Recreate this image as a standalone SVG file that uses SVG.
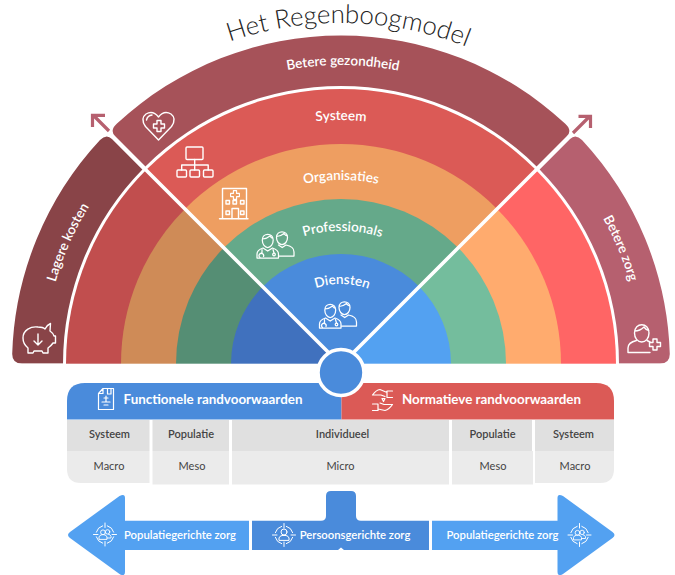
<svg xmlns="http://www.w3.org/2000/svg" xmlns:xlink="http://www.w3.org/1999/xlink" width="675" height="575" viewBox="0 0 675 575">
<style>
text{font-family:Lato,"Liberation Sans",sans-serif}
.lb{fill:#fff;font-size:13.5px;font-weight:600;text-anchor:middle}
.hd{fill:#fff;font-size:13.4px;font-weight:700;text-anchor:middle}
.ar{fill:#fff;font-size:11.3px;font-weight:600;text-anchor:middle}
.c1{fill:#444;font-size:11px;font-weight:600;text-anchor:middle}
.c2{fill:#444;font-size:11px;text-anchor:middle}
.ic{fill:none;stroke:#fff;stroke-width:1.4;stroke-linejoin:round;stroke-linecap:round}
.th{fill:none;stroke:#fff;stroke-width:1;stroke-linejoin:round;stroke-linecap:round}
.r1{fill:#e0e0e0}.r2{fill:#ebebeb}
.arrow{fill:none;stroke:#b6606f;stroke-width:3.2}
.diag{stroke:#fff;stroke-width:3.6;fill:none}
</style>
<defs>
<path id="pTitle" d="M0,364A341,341 0 0 1 682,364"/>
<path id="p299" d="M42,364A299,299 0 0 1 640,364"/>
<path id="p244" d="M97,364A244,244 0 0 1 585,364"/>
<path id="p184" d="M157,364A184,184 0 0 1 525,364"/>
<path id="p133" d="M208,364A133,133 0 0 1 474,364"/>
<path id="p80" d="M261,364A80,80 0 0 1 421,364"/>
<path id="pLeft" d="M44,364A297,297 0 0 1 142.3,143.3"/>
<path id="pRight" d="M553,152A300,300 0 0 1 641,364"/>
<path id="plus" d="M-2,-5.5H2V-2H5.5V2H2V5.5H-2V2H-5.5V-2H-2Z"/>
<g id="doctors" class="ic" style="stroke-width:1.25">
<path d="M6.3,9.5C6.3,2 17.2,2 17.2,9.5C17.2,14 14.5,17 11.7,17C9,17 6.3,14 6.3,9.5ZM6.5,8.5Q11,8 14,5.5Q15.5,7.5 17,8"/>
<path d="M1,27.5V23.5Q1,19.5 7,17.5L11.7,20.5L16.5,17.5Q22.5,19.5 22.5,23.5V27.5Z"/>
<path d="M6,19V22.5M4,27A2.3,2.3 0 1 1 7.5,26M17,19L18,22.5"/>
<circle cx="18" cy="24" r="1.3"/>
<path d="M20.5,7C20.5,-0.5 31.5,-0.5 31.5,7C31.5,11 29,14 26,14C23,14 20.5,11 20.5,7ZM20.7,6Q25,5.5 28,3Q29.5,5 31.3,5.5"/>
<path d="M22.5,14.5L26.2,17L30,14.5Q38,16 38,21.5V25.5H23"/>
</g>
<g id="target" class="th">
<path d="M2.33,-8.7A9,9 0 0 1 8.7,-2.33M8.7,2.33A9,9 0 0 1 2.33,8.7M-2.33,8.7A9,9 0 0 1 -8.7,2.33M-8.7,-2.33A9,9 0 0 1 -2.33,-8.7"/>
<path d="M0,-11.5V-7M0,7V11.5M-11.5,0H-7M7,0H11.5"/>
</g>
<g id="people" class="th" style="stroke-width:.9">
<circle cx="-2" cy="-2.2" r="2.4"/><circle cx="2.6" cy="-2.6" r="2.2"/>
<path d="M-6,4.5V2.5Q-5.5,0.5 -3,0.2H-1Q1.5,0.5 2,2.5V4.5ZM2,3.5H6V1.8Q5.5,0 3.5,-0.3"/>
</g>
</defs>

<g id="title"><text font-size="25.8" font-weight="300" fill="#222"><textPath href="#pTitle" startOffset="50.7%" text-anchor="middle">Het Regenboogmodel</textPath></text></g>

<g id="band-betere-gezondheid">
<path fill="#a65259" d="M145.4,166.4L115,136Q109.4,130.4 117,123.6A329,329 0 0 1 565,123.6Q572.6,130.4 567,136L536.6,166.4A278,278 0 0 0 145.4,166.4Z"/>
<text class="lb"><textPath href="#p299" startOffset="50.2%">Betere gezondheid</textPath></text>
<path class="ic" d="M158.5,140L145.5,126.5Q140,118.5 146,114Q153,110 158.5,117Q164,110 171,114Q177,118.5 171.5,126.5Z"/>
<path class="ic" d="M146.5,120Q147.5,115.5 152,115"/>
<use href="#plus" x="159" y="126" class="ic"/>
</g>
<g id="band-lagere-kosten">
<path fill="#894448" d="M142.4,169.4L112,139Q106.4,133.4 100,140A329,329 0 0 0 12.2,354Q12.2,363.5 22,363.5H63V364A278,278 0 0 1 142.4,169.4Z"/>
<text class="lb"><textPath href="#pLeft" startOffset="50%">Lagere kosten</textPath></text>
<path class="ic" d="M23,338C23,330 31,326 38,327Q43,327 45,329Q47,325 50.5,323.5L50,331Q53,333 54,336H55.5V343H53Q51,346 48,348V353H43L42,351H34L33,353H28V348Q23,344 23,338Z"/>
<path class="ic" d="M38,334V345M34,341L38,345L42,341"/>
</g>
<g id="band-betere-zorg">
<path fill="#b6606f" d="M539.6,169.4L570,139Q575.6,133.4 582,140A329,329 0 0 1 669.8,354Q669.8,363.5 660,363.5H619V364A278,278 0 0 0 539.6,169.4Z"/>
<text class="lb"><textPath href="#pRight" startOffset="50%">Betere zorg</textPath></text>
<path class="ic" d="M634.5,333C634.5,322 649,322 649,333C649,338 646,342 641.7,342C637.5,342 634.5,338 634.5,333ZM634.7,331Q640,331 644,327Q646,330 648.8,330.5"/>
<path class="ic" d="M636.5,340.5Q628,342.5 628,348V352.5H650"/>
<path class="ic" d="M647,340.5L650,342"/>
<use href="#plus" x="655" y="344.5" class="ic"/>
</g>

<g id="ring-systeem">
<path fill="#db5a56" d="M146.55,169.55A275,275 0 0 1 535.45,169.55L341,364Z"/>
<path fill="#c14e4e" d="M341,364H66A275,275 0 0 1 146.55,169.55Z"/>
<path fill="#ff6565" d="M341,364H616A275,275 0 0 0 535.45,169.55Z"/>
<text class="lb"><textPath href="#p244" startOffset="50%">Systeem</textPath></text>
<g class="ic"><rect x="186" y="147" width="17" height="12.5" rx="1"/><rect x="177" y="170" width="9.5" height="7" rx="1"/><rect x="190" y="170" width="9.5" height="7" rx="1"/><rect x="203.5" y="170" width="9.5" height="7" rx="1"/><path d="M194.7,159.5V170M181.7,170V165H208.2V170"/></g>
</g>
<g id="ring-organisaties">
<path fill="#ee9e61" d="M185.44,208.44A220,220 0 0 1 496.56,208.44L341,364Z"/>
<path fill="#cf8b57" d="M341,364H121A220,220 0 0 1 185.44,208.44Z"/>
<path fill="#ffab6e" d="M341,364H561A220,220 0 0 0 496.56,208.44Z"/>
<text class="lb"><textPath href="#p184" startOffset="50%">Organisaties</textPath></text>
<g class="ic"><path d="M222.5,218.5V188.5H246.5V218.5M219.5,218.7H248"/><use href="#plus" x="235" y="195" transform="translate(235 195) scale(.8) translate(-235 -195)"/><rect x="226" y="200.5" width="3.5" height="3.5"/><rect x="233" y="200.5" width="3.5" height="3.5"/><rect x="240.5" y="200.5" width="3.5" height="3.5"/><rect x="226" y="211" width="3.5" height="3.5"/><rect x="240.5" y="211" width="3.5" height="3.5"/><path d="M232,218.5V208.5H238.5V218.5"/></g>
</g>
<g id="ring-professionals">
<path fill="#65a98a" d="M224.33,247.33A165,165 0 0 1 457.67,247.33L341,364Z"/>
<path fill="#558e74" d="M341,364H176A165,165 0 0 1 224.33,247.33Z"/>
<path fill="#74bd9d" d="M341,364H506A165,165 0 0 0 457.67,247.33Z"/>
<text class="lb"><textPath href="#p133" startOffset="50.4%">Professionals</textPath></text>
<use href="#doctors" x="256" y="230.5"/>
</g>
<g id="ring-diensten">
<path fill="#4a8bdb" d="M263.22,286.22A110,110 0 0 1 418.78,286.22L341,364Z"/>
<path fill="#4071be" d="M341,364H231A110,110 0 0 1 263.22,286.22Z"/>
<path fill="#53a1f1" d="M341,364H451A110,110 0 0 0 418.78,286.22Z"/>
<text class="lb"><textPath href="#p80" startOffset="50.5%">Diensten</textPath></text>
<use href="#doctors" x="318.5" y="300.5"/>
</g>
<rect x="0" y="363.7" width="675" height="19" fill="#fff"/>

<g id="connectors">
<path class="diag" d="M341,365L107,131M341,365L575,131"/>
<path class="arrow" d="M109,131L93.5,115.5M92.5,127V115.3H105"/>
<path class="arrow" d="M573,133L589.5,116.5M578.5,116.3H590.5V128"/>
</g>

<g id="header-functioneel">
<path fill="#4a8bdb" d="M67,419.5V401Q67,383 85,383H341.5V419.5Z"/>
<text class="hd" x="213" y="404">Functionele randvoorwaarden</text>
<g class="ic" style="stroke-width:1.2"><path d="M103,388.5H113.5V409.5H98.5V393.5ZM103,388.5V393.5H98.5M107.5,388.5V394H111V388.5"/><path d="M104,398H108M106,396V402M102,402H110M104,405H108"/></g>
</g>
<g id="header-normatief">
<path fill="#db5a56" d="M341.5,383H596Q614,383 614,401V419.5H341.5Z"/>
<text class="hd" x="491.5" y="404">Normatieve randvoorwaarden</text>
<g class="ic" style="stroke-width:1.2"><path d="M392.5,391H387V397.5H392.5M387,392.5L380,389.5Q376,390 372.5,395H381L385,396.5"/><path d="M372.5,404H378V410.5H372.5M378,409L385,410.5Q389,409.5 392.5,404.5H384L380,403"/><path d="M382,398.5L385,398.5L383.5,401.5Z"/></g>
</g>
<g id="circle-center"><circle cx="341" cy="372.5" r="23" fill="#4a8bdb" stroke="#fff" stroke-width="3.6"/></g>

<g id="col-systeem-l">
<rect class="r1" x="67" y="420" width="82.5" height="31"/>
<path class="r2" d="M67,451H149.5V483H81Q67,483 67,469Z"/>
<text class="c1" x="109.5" y="438">Systeem</text><text class="c2" x="109" y="470">Macro</text>
</g>
<g id="col-populatie-l">
<rect class="r1" x="152.5" y="420" width="76.5" height="31"/><rect class="r2" x="152.5" y="451" width="76.5" height="33.5"/>
<text class="c1" x="191" y="438">Populatie</text><text class="c2" x="192" y="470">Meso</text>
</g>
<g id="col-individueel">
<rect class="r1" x="232" y="420" width="217" height="31"/><rect class="r2" x="232" y="451" width="217" height="33.5"/>
<text class="c1" x="342.5" y="438">Individueel</text><text class="c2" x="340.5" y="470">Micro</text>
</g>
<g id="col-populatie-r">
<rect class="r1" x="452" y="420" width="80" height="31"/><rect class="r2" x="452" y="451" width="81" height="33.5"/>
<text class="c1" x="492.5" y="438">Populatie</text><text class="c2" x="493" y="470">Meso</text>
</g>
<g id="col-systeem-r">
<rect class="r1" x="535" y="420" width="79" height="31"/>
<path class="r2" d="M535,451H614V469Q614,483 600,483H535Z"/>
<text class="c1" x="573.5" y="438">Systeem</text><text class="c2" x="575" y="470">Macro</text>
</g>

<g id="arrow-populatie-l">
<path fill="#53a1f1" d="M249,520.7H125V498Q125,493 119.5,496L70,532Q66,535 70,538L119.5,574Q125,577 125,572V550H249Z"/>
<use href="#target" x="105" y="534.5"/><use href="#people" x="105" y="534.5"/>
<text class="ar" x="180" y="539">Populatiegerichte zorg</text>
</g>
<g id="arrow-persoon">
<path fill="#4a8bdb" d="M252,520.7H321Q326,520.7 326,516V496Q326,491 331,491H351Q356,491 356,496V516Q356,520.7 361,520.7H429V550H344L341,547.5L338,550H252Z"/>
<use href="#target" x="284" y="535"/>
<g class="th"><circle cx="284" cy="532" r="3"/><path d="M279,540V538Q279.5,536 282,535.5H286Q288.5,536 289,538V540Z"/></g>
<text class="ar" x="355" y="539">Persoonsgerichte zorg</text>
</g>
<g id="arrow-populatie-r">
<path fill="#53a1f1" d="M432,520.7H557.5V498Q557.5,493 563,496L612.5,532Q616.5,535 612.5,538L563,574Q557.5,577 557.5,572V550H432Z"/>
<use href="#target" x="579.5" y="535"/><use href="#people" x="579.5" y="535"/>
<text class="ar" x="502.5" y="539">Populatiegerichte zorg</text>
</g>
</svg>
